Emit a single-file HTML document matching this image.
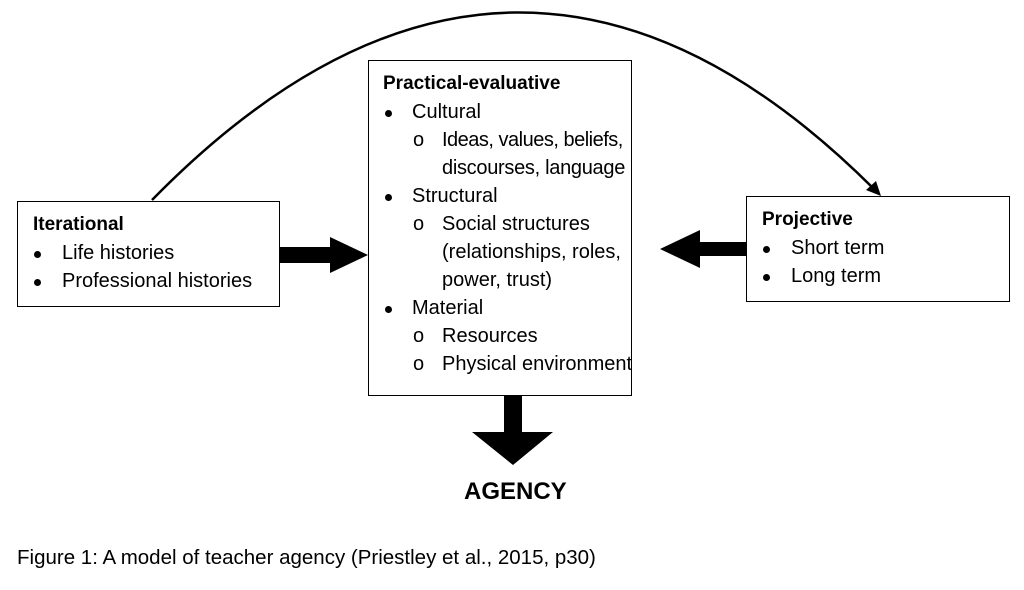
<!DOCTYPE html>
<html><head><style>
body{margin:0;width:1024px;height:590px;background:#fff;position:relative;overflow:hidden;font-family:"Liberation Sans",sans-serif;color:#000}
.box{position:absolute;border:1.5px solid #000;box-sizing:border-box;background:#fff}
.t{position:absolute;font-size:20px;white-space:nowrap;line-height:28px}
.b{font-weight:bold;font-size:19px}
.d{position:absolute;width:7px;height:7px;border-radius:50%;background:#000}
</style></head><body>
<svg width="1024" height="590" style="position:absolute;left:0;top:0">
<path d="M152,200 Q515,-170 875,190" fill="none" stroke="#000" stroke-width="2.5"/>
<polygon points="881,196 866,190 876,181" fill="#000"/>
<polygon points="280,247 330,247 330,237 368,255 330,273 330,263 280,263" fill="#000"/>
<polygon points="746,242 700,242 700,230 660,249 700,268 700,256 746,256" fill="#000"/>
<polygon points="504,395 522,395 522,432 553,432 513,465 472,432 504,432" fill="#000"/>
</svg>
<div class="box" style="left:17px;top:201px;width:263px;height:106px"></div>
<div class="box" style="left:368px;top:60px;width:264px;height:336px"></div>
<div class="box" style="left:746px;top:196px;width:264px;height:106px"></div>

<div class="t b" style="left:33px;top:211px">Iterational</div>
<div class="d" style="left:34px;top:251px"></div><div class="t" style="left:62px;top:239px">Life histories</div>
<div class="d" style="left:34px;top:279px"></div><div class="t" style="left:62px;top:267px">Professional histories</div>

<div class="t b" style="left:383px;top:70px">Practical-evaluative</div>
<div class="d" style="left:385px;top:110px"></div><div class="t" style="left:412px;top:98px">Cultural</div>
<div class="t" style="left:413px;top:126px">o</div><div class="t" style="left:442px;top:126px;letter-spacing:-0.5px">Ideas, values, beliefs,</div>
<div class="t" style="left:442px;top:154px;letter-spacing:-0.3px">discourses, language</div>
<div class="d" style="left:385px;top:194px"></div><div class="t" style="left:412px;top:182px">Structural</div>
<div class="t" style="left:413px;top:210px">o</div><div class="t" style="left:442px;top:210px">Social structures</div>
<div class="t" style="left:442px;top:238px">(relationships, roles,</div>
<div class="t" style="left:442px;top:266px">power, trust)</div>
<div class="d" style="left:385px;top:306px"></div><div class="t" style="left:412px;top:294px">Material</div>
<div class="t" style="left:413px;top:322px">o</div><div class="t" style="left:442px;top:322px">Resources</div>
<div class="t" style="left:413px;top:350px">o</div><div class="t" style="left:442px;top:350px">Physical environment</div>

<div class="t b" style="left:762px;top:206px">Projective</div>
<div class="d" style="left:763px;top:246px"></div><div class="t" style="left:791px;top:234px">Short term</div>
<div class="d" style="left:763px;top:274px"></div><div class="t" style="left:791px;top:262px">Long term</div>

<div class="t" style="left:464px;top:476px;font-size:24px;line-height:32px;font-weight:bold">AGENCY</div>
<div class="t" style="left:17px;top:544px;font-size:20.5px">Figure 1: A model of teacher agency (Priestley et al., 2015, p30)</div>
</body></html>
